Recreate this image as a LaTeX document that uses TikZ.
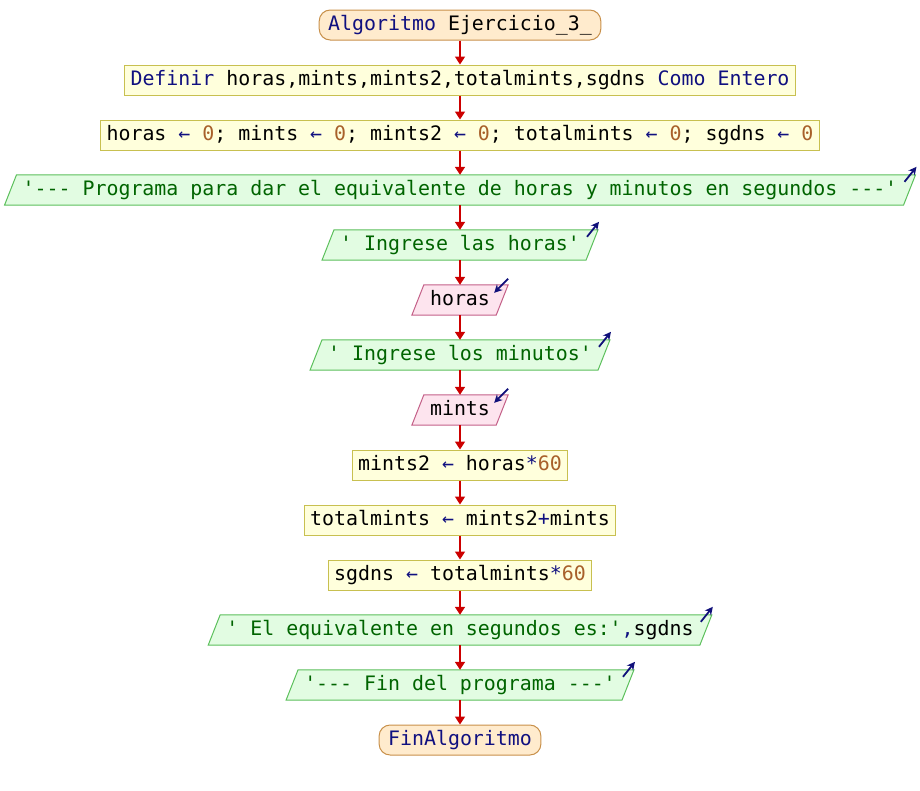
\documentclass[tikz,border=0pt]{standalone}
\usepackage{fontspec}
\setmonofont{DejaVu Sans Mono}
\usetikzlibrary{calc,backgrounds,arrows.meta}

\definecolor{flowred}{HTML}{CC0000}
\definecolor{kwblue}{HTML}{101080}
\definecolor{numbrown}{HTML}{A8602A}
\definecolor{strgreen}{HTML}{006400}
\definecolor{termfill}{HTML}{FFEBCD}
\definecolor{termline}{HTML}{C8904A}
\definecolor{procfill}{HTML}{FFFFDC}
\definecolor{procline}{HTML}{C8C050}
\definecolor{outfill}{HTML}{E2FCE2}
\definecolor{outline}{HTML}{5CC05C}
\definecolor{infill}{HTML}{FDE4EE}
\definecolor{inline}{HTML}{C46088}
\definecolor{marknavy}{HTML}{10107A}

% syntax colouring of the pseudocode
\newcommand{\kwc}[1]{\textcolor{kwblue}{#1}}
\newcommand{\numc}[1]{\textcolor{numbrown}{#1}}
\newcommand{\strc}[1]{\textcolor{strgreen}{#1}}
\newcommand{\asg}{\textcolor{kwblue}{←}}

\tikzset{
  every node/.style={font=\ttfamily\fontsize{19.9}{24}\selectfont,
    inner sep=0pt, text height=14.5pt, text depth=4.5pt, minimum height=30pt},
  term/.style={draw=termline, fill=termfill, rounded corners=11pt, inner xsep=9pt, line width=1pt},
  proc/.style={draw=procline, fill=procfill, inner xsep=6pt, line width=1pt},
  io/.style={inner xsep=12pt},
  flow/.style={draw=flowred, line width=1.6pt, -{Triangle[length=8pt,width=10pt]}},
  iomark/.style={draw=marknavy, line width=1.8pt, -{Stealth[length=8pt,width=8pt]}},
  outshape/.style={fill=outfill, draw=outline, line width=1pt},
  inshape/.style={fill=infill, draw=inline, line width=1pt},
}

% parallelogram behind an input/output node, slanted by 12pt
\newcommand{\ioshape}[2]{%
  \begin{scope}[on background layer]
    \path[#2] ($(#1.north west)+(6,0)$) -- ($(#1.north east)+(6,0)$)
      -- ($(#1.south east)+(-6,0)$) -- ($(#1.south west)+(-6,0)$) -- cycle;
  \end{scope}}
% small arrow on an output symbol (pointing out)
\newcommand{\outmark}[1]{%
  \draw[iomark] ($(#1.north east)+(-5,7)$) -- ($(#1.north east)+(7,-8)$);}
% small arrow on an input symbol (pointing in)
\newcommand{\inmark}[1]{%
  \draw[iomark] ($(#1.north east)+(6,-6)$) -- ($(#1.north east)+(-8,8)$);}

\begin{document}
\begin{tikzpicture}[x=1pt, y=-1pt]
  \useasboundingbox (0,0) rectangle (920,790);

  \node[term] (start) at (460,25) {\kwc{Algoritmo} Ejercicio\_3\_};
  \node[proc] (def) at (460,80) {\kwc{Definir} horas,mints,mints2,totalmints,sgdns \kwc{Como Entero}};
  \node[proc] (init) at (460,135) {horas \asg{} \numc{0}; mints \asg{} \numc{0}; mints2 \asg{} \numc{0}; totalmints \asg{} \numc{0}; sgdns \asg{} \numc{0}};
  \node[io] (title) at (460,190) {\strc{'--- Programa para dar el equivalente de horas y minutos en segundos ---'}};
  \node[io] (askh) at (460,245) {\strc{' Ingrese las horas'}};
  \node[io] (readh) at (460,300) {horas};
  \node[io] (askm) at (460,355) {\strc{' Ingrese los minutos'}};
  \node[io] (readm) at (460,410) {mints};
  \node[proc] (calc1) at (460,465) {mints2 \asg{} horas\kwc{*}\numc{60}};
  \node[proc] (calc2) at (460,520) {totalmints \asg{} mints2\kwc{+}mints};
  \node[proc] (calc3) at (460,575) {sgdns \asg{} totalmints\kwc{*}\numc{60}};
  \node[io] (show) at (460,630) {\strc{' El equivalente en segundos es:'}\kwc{,}sgdns};
  \node[io] (bye) at (460,685) {\strc{'--- Fin del programa ---'}};
  \node[term] (stop) at (460,740) {\kwc{FinAlgoritmo}};

  \ioshape{title}{outshape}
  \ioshape{askh}{outshape}
  \ioshape{readh}{inshape}
  \ioshape{askm}{outshape}
  \ioshape{readm}{inshape}
  \ioshape{show}{outshape}
  \ioshape{bye}{outshape}

  \outmark{title}
  \outmark{askh}
  \inmark{readh}
  \outmark{askm}
  \inmark{readm}
  \outmark{show}
  \outmark{bye}

  \foreach \a/\b in {start/def, def/init, init/title, title/askh, askh/readh,
      readh/askm, askm/readm, readm/calc1, calc1/calc2, calc2/calc3,
      calc3/show, show/bye, bye/stop}
    \draw[flow] (\a.south) -- (\b.north);
\end{tikzpicture}
\end{document}
